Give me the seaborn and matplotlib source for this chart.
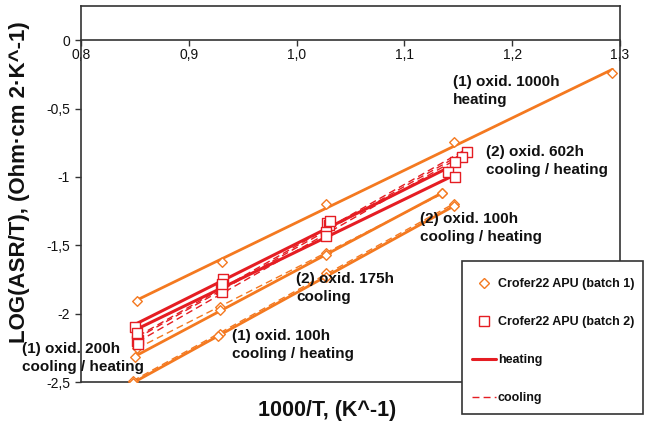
import numpy as np
import matplotlib
matplotlib.use('Agg')
import matplotlib.pyplot as plt
import seaborn as sns
from matplotlib.lines import Line2D
from matplotlib.patches import Rectangle
from matplotlib.ticker import FuncFormatter, FixedLocator

# ---------------- data ----------------
# batch 1 (Crofer22 APU batch 1, orange diamonds)
b1_1000h_heat_x = [0.852, 0.931, 1.027, 1.146, 1.293]
b1_1000h_heat_y = [-1.91, -1.62, -1.20, -0.746, -0.241]

b1_200h_heat_x = [0.850, 0.929, 1.027, 1.135]
b1_200h_heat_y = [-2.317, -1.974, -1.57, -1.118]
b1_200h_cool_x = [0.852, 0.929, 1.027, 1.135]
b1_200h_cool_y = [-2.25, -1.95, -1.56, -1.12]

b1_100h_heat_x = [0.848, 0.927, 1.027, 1.146]
b1_100h_heat_y = [-2.507, -2.164, -1.73, -1.213]
b1_100h_cool_x = [0.848, 0.929, 1.027, 1.146]
b1_100h_cool_y = [-2.49, -2.15, -1.70, -1.20]

# batch 2 (Crofer22 APU batch 2, red squares)
b2_602h_cool_x = [0.853, 0.931, 1.028, 1.158]
b2_602h_cool_y = [-2.19, -1.80, -1.34, -0.82]
b2_100h_cool_x = [0.852, 0.930, 1.030, 1.153]
b2_100h_cool_y = [-2.20, -1.82, -1.35, -0.855]
b2_175h_cool_x = [0.853, 0.931, 1.027, 1.147]
b2_175h_cool_y = [-2.22, -1.84, -1.40, -0.89]
b2_602h_heat_x = [0.850, 0.932, 1.031, 1.140]
b2_602h_heat_y = [-2.10, -1.75, -1.32, -0.965]
b2_100h_heat_x = [0.852, 0.931, 1.027, 1.147]
b2_100h_heat_y = [-2.14, -1.78, -1.43, -1.00]

x_ticks = [0.8, 0.9, 1.0, 1.1, 1.2, 1.3]
y_ticks = [0, -0.5, -1, -1.5, -2, -2.5]

legend_labels = ["Crofer22 APU (batch 1)", "Crofer22 APU (batch 2)", "heating", "cooling"]

annotations = [
    ("(1) oxid. 1000h\nheating", 453, 91),
    ("(2) oxid. 602h\ncooling / heating", 486, 161),
    ("(2) oxid. 100h\ncooling / heating", 420, 228),
    ("(2) oxid. 175h\ncooling", 296, 288),
    ("(1) oxid. 200h\ncooling / heating", 22, 358),
    ("(1) oxid. 100h\ncooling / heating", 232, 345),
]

series = [
    (b1_1000h_heat_x, b1_1000h_heat_y, 1, 'heating'),
    (b1_200h_cool_x, b1_200h_cool_y, 1, 'cooling'),
    (b1_200h_heat_x, b1_200h_heat_y, 1, 'heating'),
    (b1_100h_cool_x, b1_100h_cool_y, 1, 'cooling'),
    (b1_100h_heat_x, b1_100h_heat_y, 1, 'heating'),
    (b2_602h_cool_x, b2_602h_cool_y, 2, 'cooling'),
    (b2_100h_cool_x, b2_100h_cool_y, 2, 'cooling'),
    (b2_175h_cool_x, b2_175h_cool_y, 2, 'cooling'),
    (b2_602h_heat_x, b2_602h_heat_y, 2, 'heating'),
    (b2_100h_heat_x, b2_100h_heat_y, 2, 'heating'),
]

# ---------------- style ----------------
sns.set_theme(style='white')
plt.rcParams['font.family'] = ['Liberation Sans', 'DejaVu Sans']

ORANGE = '#F47920'
RED = '#E51D23'
SPINE = '#333333'
TXT = '#111111'

W, H = 645, 429
fig = plt.figure(figsize=(W / 100, H / 100), dpi=100)
ax = fig.add_axes([81 / W, 1 - 382 / H, 539 / W, 376 / H])

for x, y, batch, mode in series:
    color = ORANGE if batch == 1 else RED
    marker = 'D' if batch == 1 else 's'
    size = 24 if batch == 1 else 48
    if mode == 'heating':
        ls, lw = '-', (2.0 if batch == 1 else 2.2)
    else:
        ls, lw = (0, (5, 3)), 1.0
    sns.regplot(x=np.array(x), y=np.array(y), ax=ax, ci=None, truncate=True,
                color=color, marker=marker,
                scatter_kws=dict(s=size, color='white', edgecolors=color,
                                 linewidths=1.0, alpha=1, zorder=4),
                line_kws=dict(color=color, linestyle=ls, linewidth=lw, zorder=3))

ax.set_xlim(0.8, 1.3)
ax.set_ylim(-2.5, 0.25)

# axes frame: x axis crosses at y = 0, box around
ax.spines['bottom'].set_position(('data', 0))
for s in ax.spines.values():
    s.set_color(SPINE)
    s.set_linewidth(1.2)
ax.axhline(-2.5, color=SPINE, lw=1.2, clip_on=False, zorder=2)

ax.xaxis.set_major_locator(FixedLocator(x_ticks))
ax.yaxis.set_major_locator(FixedLocator(y_ticks))
ax.xaxis.set_major_formatter(FuncFormatter(lambda v, p: f"{v:.1f}".replace('.', ',')))
ax.yaxis.set_major_formatter(FuncFormatter(lambda v, p: ('%g' % v).replace('.', ',')))
ax.tick_params(axis='both', which='major', direction='out', length=4, width=1,
               color=SPINE, labelcolor=TXT, labelsize=10,
               bottom=True, left=True, top=False, right=False)
ax.tick_params(axis='x', pad=1.5)
ax.tick_params(axis='y', pad=4)
ax.grid(False)

ax.set_xlabel('1000/T, (K^-1)', fontsize=15.5, fontweight='bold', color=TXT)
ax.xaxis.set_label_coords(0.457, -0.075)
ax.xaxis.label.set_va('center')
ax.set_ylabel('LOG(ASR/T), (Ohm·cm 2·K^-1)', fontsize=16, fontweight='bold', color=TXT)
ax.yaxis.set_label_coords(-0.115, 0.532)
ax.yaxis.label.set_va('center')

for txt, px, py in annotations:
    fig.text(px / W, 1 - py / H, txt, ha='left', va='center', fontsize=11,
             fontweight='bold', color=TXT, linespacing=1.4)

# legend box
fig.add_artist(Rectangle((462 / W, 1 - 414 / H), (643 - 462) / W, (414 - 261) / H,
                         transform=fig.transFigure, facecolor='white',
                         edgecolor=SPINE, linewidth=1.2, zorder=4))
handles = [
    Line2D([], [], ls='none', marker='D', ms=5, mfc='white', mec=ORANGE, mew=1),
    Line2D([], [], ls='none', marker='s', ms=7, mfc='white', mec=RED, mew=1),
    Line2D([], [], color=RED, lw=2.2),
    Line2D([], [], color=RED, lw=1.0, ls=(0, (5, 3))),
]
leg = fig.legend(handles, legend_labels, loc='upper left',
                 bbox_to_anchor=(472 / W, 1 - 278 / H), borderaxespad=0,
                 frameon=False, prop=dict(weight='bold', size=9),
                 labelspacing=2.08, borderpad=0, handlelength=1.92,
                 handletextpad=0.15)
leg.set_zorder(5)
for t in leg.get_texts():
    t.set_color(TXT)

fig.savefig('out.png', dpi=100)
